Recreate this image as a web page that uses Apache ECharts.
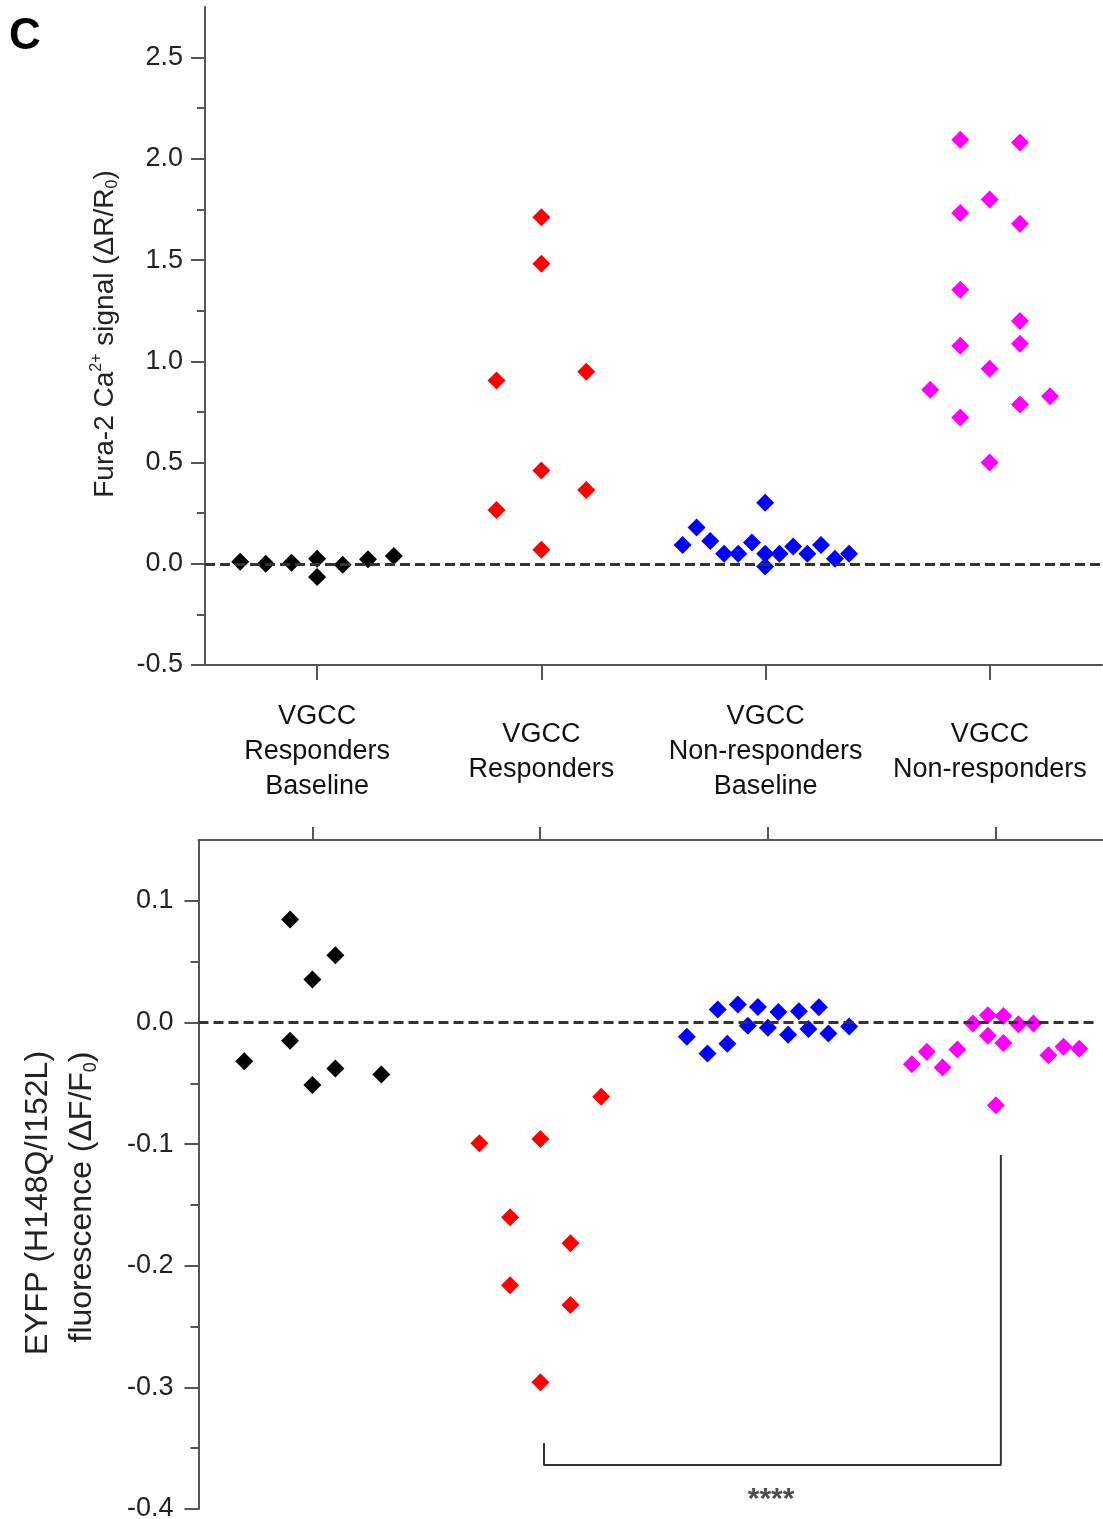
<!DOCTYPE html>
<html>
<head>
<meta charset="utf-8">
<script src="https://cdn.jsdelivr.net/npm/echarts@6/dist/echarts.min.js"></script>
<style>
html,body{margin:0;padding:0;background:#fff;}
#chart{width:1103px;height:1519px;}
</style>
</head>
<body>
<div id="chart"></div>
<script>
// ---------- data ----------
const categories = ['VGCC\nResponders\nBaseline', 'VGCC\nResponders', 'VGCC\nNon-responders\nBaseline', 'VGCC\nNon-responders'];
const groupColors = ['#000000', '#ff0000', '#0000ff', '#ff00ff'];

// top panel: Fura-2 Ca2+ signal (ΔR/R0); x = jittered category position (category i centred at i+0.5)
const furaRespBaseX = [0.157, 0.271, 0.386, 0.5, 0.5, 0.614, 0.727, 0.842];
const furaRespBaseY = [0.010, 0.000, 0.005, 0.025, -0.065, -0.005, 0.022, 0.038];
const furaRespX = [1.5, 1.5, 1.3, 1.7, 1.5, 1.7, 1.3, 1.5];
const furaRespY = [1.712, 1.482, 0.905, 0.949, 0.461, 0.364, 0.266, 0.069];
const furaNonBaseX = [2.130, 2.192, 2.253, 2.315, 2.378, 2.439, 2.498, 2.498, 2.498, 2.562, 2.623, 2.686, 2.747, 2.809, 2.872];
const furaNonBaseY = [0.093, 0.179, 0.113, 0.049, 0.049, 0.105, 0.302, 0.049, -0.013, 0.049, 0.085, 0.049, 0.093, 0.025, 0.049];
const furaNonX = [3.368, 3.634, 3.499, 3.368, 3.634, 3.368, 3.634, 3.368, 3.634, 3.499, 3.234, 3.634, 3.768, 3.368, 3.499];
const furaNonY = [2.094, 2.081, 1.799, 1.733, 1.679, 1.353, 1.199, 1.077, 1.087, 0.963, 0.859, 0.787, 0.828, 0.722, 0.500];

// bottom panel: EYFP fluorescence (ΔF/F0)
const eyfpRespBaseX = [0.201, 0.402, 0.402, 0.500, 0.500, 0.601, 0.601, 0.803];
const eyfpRespBaseY = [-0.0318, 0.0846, -0.0151, 0.0353, -0.0515, 0.0553, -0.0378, -0.0427];
const eyfpRespX = [1.768, 1.233, 1.501, 1.368, 1.633, 1.368, 1.633, 1.501];
const eyfpRespY = [-0.0611, -0.0994, -0.0959, -0.1602, -0.1816, -0.2161, -0.2323, -0.2958];
const eyfpNonBaseX = [2.144, 2.235, 2.280, 2.322, 2.368, 2.412, 2.456, 2.500, 2.546, 2.589, 2.636, 2.678, 2.724, 2.766, 2.857];
const eyfpNonBaseY = [-0.0118, -0.0255, 0.0107, -0.0176, 0.0148, -0.0028, 0.0128, -0.0044, 0.0085, -0.0102, 0.0093, -0.0053, 0.0126, -0.0090, -0.0033];
const eyfpNonX = [3.132, 3.198, 3.267, 3.332, 3.400, 3.466, 3.466, 3.501, 3.534, 3.534, 3.600, 3.666, 3.732, 3.798, 3.867];
const eyfpNonY = [-0.0343, -0.0241, -0.0370, -0.0222, -0.0008, 0.0060, -0.0110, -0.0680, 0.0054, -0.0168, -0.0014, -0.0008, -0.0269, -0.0200, -0.0217];

// tick values
const furaMajorTicks = [-0.5, 0, 0.5, 1.0, 1.5, 2.0, 2.5];
const furaMinorTicks = [-0.25, 0.25, 0.75, 1.25, 1.75, 2.25];
const eyfpMajorTicks = [-0.4, -0.3, -0.2, -0.1, 0, 0.1];
const eyfpMinorTicks = [-0.35, -0.25, -0.15, -0.05, 0.05];
const significance = '****';

// ---------- chart ----------
const FONT = '"Liberation Sans", Arial, sans-serif';
const AXIS_COLOR = '#555';
const zip = (xs, ys) => xs.map((x, i) => [x, ys[i]]);

const topSets = [zip(furaRespBaseX, furaRespBaseY), zip(furaRespX, furaRespY), zip(furaNonBaseX, furaNonBaseY), zip(furaNonX, furaNonY)];
const botSets = [zip(eyfpRespBaseX, eyfpRespBaseY), zip(eyfpRespX, eyfpRespY), zip(eyfpNonBaseX, eyfpNonBaseY), zip(eyfpNonX, eyfpNonY)];

function scatter(data, color, xi, yi) {
  return {
    type: 'scatter', xAxisIndex: xi, yAxisIndex: yi, data: data,
    symbol: 'diamond', symbolSize: 18, z: 3,
    itemStyle: { color: color, opacity: 1 }, silent: true
  };
}

function majorY(grid, min, max, ticks, margin) {
  return {
    type: 'value', gridIndex: grid, position: 'left', min: min, max: max,
    axisLine: { show: true, onZero: false, lineStyle: { color: AXIS_COLOR, width: 2 } },
    axisTick: { show: true, length: 14, lineStyle: { color: AXIS_COLOR, width: 2 }, customValues: ticks },
    axisLabel: { show: true, customValues: ticks, margin: margin, fontSize: 27, color: '#222', fontFamily: FONT,
                 formatter: v => v.toFixed(1) },
    splitLine: { show: false }
  };
}
function minorY(grid, min, max, ticks) {
  return {
    type: 'value', gridIndex: grid, position: 'left', min: min, max: max,
    axisLine: { show: false, onZero: false },
    axisTick: { show: true, length: 8, lineStyle: { color: AXIS_COLOR, width: 2 }, customValues: ticks },
    axisLabel: { show: false },
    splitLine: { show: false }
  };
}

const option = {
  animation: false,
  backgroundColor: '#fff',
  grid: [
    { left: 205, top: 7, width: 897, height: 658, outerBoundsMode: 'none', containLabel: false },
    { left: 198.5, top: 840, width: 911, height: 669, outerBoundsMode: 'none', containLabel: false }
  ],
  xAxis: [
    { type: 'category', gridIndex: 0, position: 'bottom', data: categories, boundaryGap: true,
      axisLine: { show: true, onZero: false, lineStyle: { color: AXIS_COLOR, width: 2 } },
      axisTick: { show: true, alignWithLabel: true, length: 15, lineStyle: { color: AXIS_COLOR, width: 2 } },
      axisLabel: { show: true, interval: 0, margin: 87, verticalAlign: 'middle', fontSize: 27, lineHeight: 35,
                   color: '#111', fontFamily: FONT, align: 'center' },
      splitLine: { show: false } },
    { type: 'value', gridIndex: 0, min: 0, max: 4, show: false, axisLine: { onZero: false } },
    { type: 'category', gridIndex: 1, position: 'top', data: categories, boundaryGap: true,
      axisLine: { show: true, onZero: false, lineStyle: { color: AXIS_COLOR, width: 2 } },
      axisTick: { show: true, alignWithLabel: true, length: 13, lineStyle: { color: AXIS_COLOR, width: 2 } },
      axisLabel: { show: false },
      splitLine: { show: false } },
    { type: 'value', gridIndex: 1, min: 0, max: 4, show: false, axisLine: { onZero: false } }
  ],
  yAxis: [
    majorY(0, -0.5, 2.75, furaMajorTicks, 22),
    minorY(0, -0.5, 2.75, furaMinorTicks),
    majorY(1, -0.4, 0.15, eyfpMajorTicks, 25),
    minorY(1, -0.4, 0.15, eyfpMinorTicks)
  ],
  series: [
    ...topSets.map((d, i) => scatter(d, groupColors[i], 1, 0)),
    ...botSets.map((d, i) => scatter(d, groupColors[i], 3, 2)),
    // zero reference lines
    { type: 'line', xAxisIndex: 1, yAxisIndex: 0, data: [], z: 5, silent: true,
      markLine: { silent: true, symbol: ['none', 'none'], label: { show: false }, animation: false,
        lineStyle: { type: [10, 5], width: 3, color: '#333' },
        data: [[{ coord: [0, 0] }, { coord: [4, 0] }]] } },
    { type: 'line', xAxisIndex: 3, yAxisIndex: 2, data: [], z: 5, silent: true,
      markLine: { silent: true, symbol: ['none', 'none'], label: { show: false }, animation: false,
        lineStyle: { type: [10, 5], width: 3, color: '#333' },
        data: [[{ coord: [0, 0] }, { coord: [3.93, 0] }]] } },
    // significance bracket
    { type: 'line', xAxisIndex: 3, yAxisIndex: 2, silent: true, symbol: 'none', z: 4,
      lineStyle: { color: '#333', width: 2 },
      data: [[1.517, -0.3457], [1.517, -0.3638], [3.523, -0.3638], [3.523, -0.109]] },
    { type: 'scatter', xAxisIndex: 3, yAxisIndex: 2, silent: true, symbolSize: 1, itemStyle: { color: 'rgba(0,0,0,0)' },
      data: [[2.514, -0.3878]],
      label: { show: true, position: 'inside', formatter: significance, fontSize: 30, color: '#222',
               fontFamily: FONT, fontWeight: 'bold', offset: [0, 6] } }
  ],
  graphic: [
    { type: 'text', left: 9, top: 15, style: { text: 'C', font: 'bold 44px ' + FONT, fill: '#000' } },
    { type: 'text', x: 105, y: 334, rotation: Math.PI / 2,
      style: { text: 'Fura-2 Ca{sup|2+} signal (ΔR/R{sub|0})', font: '28px ' + FONT, fill: '#222',
               align: 'center', verticalAlign: 'middle',
               rich: { sup: { fontSize: 16, verticalAlign: 'top', fontFamily: FONT, fill: '#222', lineHeight: 32 },
                       sub: { fontSize: 16, verticalAlign: 'bottom', fontFamily: FONT, fill: '#222', lineHeight: 32 } } } },
    { type: 'text', x: 38, y: 1203, rotation: Math.PI / 2,
      style: { text: 'EYFP (H148Q/I152L)', font: '32px ' + FONT, fill: '#222', align: 'center', verticalAlign: 'middle' } },
    { type: 'text', x: 82, y: 1197, rotation: Math.PI / 2,
      style: { text: 'fluorescence (ΔF/F{sub|0})', font: '32px ' + FONT, fill: '#222', align: 'center', verticalAlign: 'middle',
               rich: { sub: { fontSize: 18, verticalAlign: 'bottom', fontFamily: FONT, fill: '#222', lineHeight: 36 } } } }
  ]
};

const chart = echarts.init(document.getElementById('chart'), null, { renderer: 'canvas' });
chart.setOption(option);
</script>
</body>
</html>
